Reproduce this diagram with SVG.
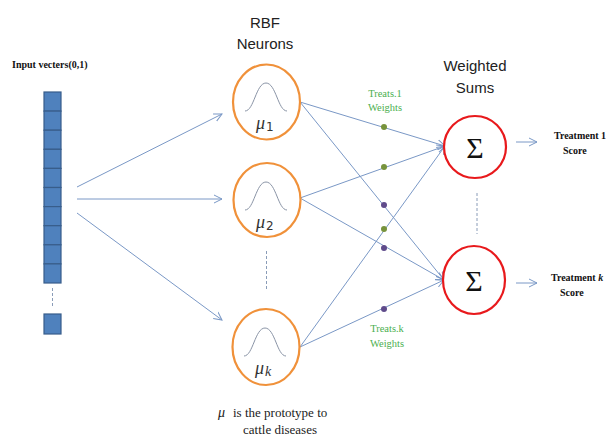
<svg xmlns="http://www.w3.org/2000/svg" width="609" height="438" viewBox="0 0 609 438">
<style>
.cell{fill:#4f81bd;stroke:#385d8a;stroke-width:1.2}
.conn{stroke:#7a98c6;stroke-width:1;fill:none}
.neuron{fill:#fff;stroke:#f0913a;stroke-width:2.2}
.sum{fill:#fff;stroke:#e8191c;stroke-width:2.2}
.gauss{fill:none;stroke:#8a94a6;stroke-width:1}
.dash{stroke:#8a9cb8;stroke-width:1;stroke-dasharray:3,2}
.mu{font-family:"Liberation Serif",serif;font-style:italic;font-size:18px;fill:#333}
.sub{font-family:"DejaVu Sans","Liberation Sans",sans-serif;font-style:normal;font-size:12px;fill:#333}
.head{font-family:"Liberation Sans",Arial,sans-serif;font-size:15px;fill:#222;text-anchor:middle}
.bold{font-family:"Liberation Serif",serif;font-weight:bold;font-size:10px;fill:#111}
.green{font-family:"Liberation Serif",serif;font-size:10.5px;fill:#4caf50;text-anchor:middle}
.sigma{font-family:"Liberation Serif",serif;font-size:30px;fill:#111;text-anchor:middle}
.note{font-family:"Liberation Serif",serif;font-size:13px;fill:#222}
.dg{fill:#77933c}
.dp{fill:#5f4b8b}
</style>
<defs>
<marker id="arr" markerUnits="userSpaceOnUse" markerWidth="10" markerHeight="10" refX="8" refY="4" orient="auto" viewBox="0 0 10 8">
<path d="M0,0 L8,4 L0,8" fill="none" stroke="#7a98c6" stroke-width="1"/>
</marker>
</defs>

<g id="input">
<text class="bold" x="12" y="68">Input vecters(0,1)</text>
<rect class="cell" x="44" y="92" width="17" height="19.1"/>
<rect class="cell" x="44" y="111.1" width="17" height="19.1"/>
<rect class="cell" x="44" y="130.2" width="17" height="19.1"/>
<rect class="cell" x="44" y="149.3" width="17" height="19.1"/>
<rect class="cell" x="44" y="168.4" width="17" height="19.1"/>
<rect class="cell" x="44" y="187.5" width="17" height="19.1"/>
<rect class="cell" x="44" y="206.6" width="17" height="19.1"/>
<rect class="cell" x="44" y="225.7" width="17" height="19.1"/>
<rect class="cell" x="44" y="244.8" width="17" height="19.1"/>
<rect class="cell" x="44" y="263.9" width="17" height="19.1"/>
<line class="dash" x1="52.5" y1="288" x2="52.5" y2="308"/>
<rect class="cell" x="44" y="314" width="17" height="20"/>
</g>

<text class="head" x="265" y="28">RBF</text>
<text class="head" x="265" y="49">Neurons</text>
<text class="head" x="475" y="71">Weighted</text>
<text class="head" x="475" y="93">Sums</text>

<g id="connectors">
<line class="conn" x1="77" y1="187" x2="222" y2="114" marker-end="url(#arr)"/>
<line class="conn" x1="77" y1="199" x2="222" y2="199" marker-end="url(#arr)"/>
<line class="conn" x1="77" y1="213" x2="222" y2="320" marker-end="url(#arr)"/>
<line class="conn" x1="300" y1="102" x2="445" y2="146" marker-end="url(#arr)"/>
<line class="conn" x1="300" y1="198" x2="445" y2="146" marker-end="url(#arr)"/>
<line class="conn" x1="300" y1="347" x2="445" y2="146" marker-end="url(#arr)"/>
<line class="conn" x1="300" y1="102" x2="444" y2="280" marker-end="url(#arr)"/>
<line class="conn" x1="300" y1="198" x2="444" y2="280" marker-end="url(#arr)"/>
<line class="conn" x1="300" y1="347" x2="444" y2="280" marker-end="url(#arr)"/>
<line class="conn" x1="516" y1="142" x2="537" y2="142" marker-end="url(#arr)"/>
<line class="conn" x1="516" y1="283" x2="537" y2="283" marker-end="url(#arr)"/>
<circle class="dg" cx="384" cy="127" r="3"/>
<circle class="dg" cx="384" cy="167" r="3"/>
<circle class="dp" cx="384" cy="205" r="3"/>
<circle class="dg" cx="384" cy="229" r="3"/>
<circle class="dp" cx="384" cy="248" r="3"/>
<circle class="dp" cx="384" cy="309" r="3"/>
<line class="dash" x1="266.5" y1="251" x2="266.5" y2="291"/>
<line class="dash" x1="477" y1="193" x2="477" y2="234"/>
</g>

<text class="green" x="385" y="97">Treats.1</text>
<text class="green" x="385" y="111">Weights</text>
<text class="green" x="387" y="332">Treats.k</text>
<text class="green" x="387" y="347">Weights</text>

<g id="rbf1">
<ellipse class="neuron" cx="266.5" cy="102" rx="33.5" ry="37.5"/>
<path class="gauss" d="M245,111 C254,111 256,83 266,83 C276,83 278,111 287,111"/>
<text class="mu" x="256" y="129">μ<tspan class="sub" dx="1" dy="2">1</tspan></text>
</g>
<g id="rbf2">
<ellipse class="neuron" cx="267" cy="200" rx="33.5" ry="37"/>
<path class="gauss" d="M245,210 C254,210 256,182 266,182 C276,182 278,210 287,210"/>
<text class="mu" x="256" y="228">μ<tspan class="sub" dx="1" dy="2">2</tspan></text>
</g>
<g id="rbfk">
<ellipse class="neuron" cx="266" cy="347" rx="33.5" ry="38"/>
<path class="gauss" d="M244,356 C253,356 255,328 265,328 C275,328 277,356 286,356"/>
<text class="mu" x="255" y="374">μ<tspan dx="1" dy="2" font-style="italic" font-family="Liberation Serif,serif" font-size="14">k</tspan></text>
</g>

<g id="sum1">
<ellipse class="sum" cx="475" cy="147" rx="31" ry="31"/>
<text class="sigma" x="475" y="158">Σ</text>
</g>
<g id="sumk">
<ellipse class="sum" cx="474" cy="280" rx="31" ry="34"/>
<text class="sigma" x="474" y="291">Σ</text>
</g>

<g id="out1">
<text class="bold" x="554" y="139">Treatment 1</text>
<text class="bold" x="563" y="154">Score</text>
</g>
<g id="outk">
<text class="bold" x="551" y="281">Treatment <tspan font-style="italic">k</tspan></text>
<text class="bold" x="560" y="296">Score</text>
</g>

<g id="note">
<text class="note" x="218" y="417"><tspan font-style="italic" font-size="14">μ</tspan><tspan x="233">is the prototype to</tspan></text>
<text class="note" x="243" y="434">cattle diseases</text>
</g>
</svg>
